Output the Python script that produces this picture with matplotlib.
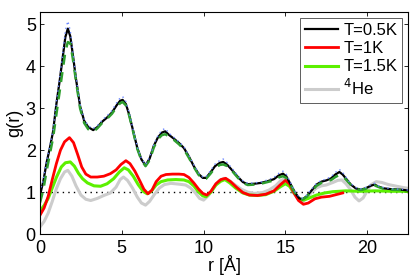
import numpy as np
import matplotlib
matplotlib.use("Agg")
import matplotlib.pyplot as plt

plt.rcParams['font.family'] = ['Liberation Sans', 'DejaVu Sans']

# T = 0.5K (black) plus the two overlaid curves sharing its r grid
r_black = [0.0, 0.2, 0.4, 0.6, 0.8, 1.0, 1.2, 1.4, 1.55, 1.7,
           1.85, 2.0, 2.2, 2.45, 2.7, 2.95, 3.25, 3.5, 3.8, 4.1,
           4.4, 4.7, 4.9, 5.05, 5.25, 5.45, 5.7, 5.95, 6.2, 6.45,
           6.7, 6.95, 7.2, 7.45, 7.65, 7.9, 8.2, 8.5, 8.8, 9.1,
           9.4, 9.7, 9.95, 10.15, 10.4, 10.7, 11.0, 11.2, 11.45, 11.75,
           12.1, 12.4, 12.7, 13.1, 13.5, 13.9, 14.3, 14.6, 14.85, 15.05,
           15.3, 15.6, 15.85, 16.05, 16.3, 16.6, 16.9, 17.2, 17.5, 17.8,
           18.05, 18.3, 18.5, 18.75, 19.0, 19.3, 19.6, 19.9, 20.2, 20.45,
           20.7, 21.0, 21.5, 22.0, 22.5]
g_black = [0.93, 1.25, 1.7, 2.05, 2.45, 3.1, 3.65, 4.25, 4.7, 4.9,
           4.72, 4.3, 3.7, 3.05, 2.7, 2.55, 2.48, 2.55, 2.68, 2.78,
           2.9, 3.08, 3.18, 3.2, 3.1, 2.85, 2.45, 2.05, 1.78, 1.64,
           1.8, 2.1, 2.3, 2.42, 2.45, 2.36, 2.27, 2.17, 2.05, 1.85,
           1.62, 1.43, 1.34, 1.34, 1.46, 1.62, 1.7, 1.72, 1.65, 1.52,
           1.36, 1.24, 1.19, 1.2, 1.22, 1.26, 1.31, 1.4, 1.44, 1.38,
           1.2, 0.98, 0.85, 0.83, 0.9, 1.04, 1.18, 1.25, 1.28, 1.33,
           1.42, 1.48, 1.42, 1.3, 1.18, 1.09, 1.06, 1.09, 1.15, 1.18,
           1.13, 1.09, 1.07, 1.06, 1.04]
g_blue = [1.0, 1.3, 1.75, 2.1, 2.5, 3.15, 3.72, 4.35, 4.85, 5.08,
          4.85, 4.38, 3.75, 3.1, 2.74, 2.58, 2.52, 2.58, 2.72, 2.82,
          2.95, 3.14, 3.25, 3.28, 3.16, 2.9, 2.48, 2.08, 1.8, 1.66,
          1.83, 2.13, 2.34, 2.48, 2.52, 2.4, 2.3, 2.2, 2.08, 1.88,
          1.65, 1.46, 1.36, 1.37, 1.5, 1.67, 1.76, 1.79, 1.7, 1.56,
          1.39, 1.27, 1.21, 1.22, 1.24, 1.29, 1.35, 1.45, 1.5, 1.43,
          1.24, 1.01, 0.88, 0.86, 0.93, 1.07, 1.21, 1.28, 1.31, 1.37,
          1.47, 1.54, 1.47, 1.33, 1.2, 1.11, 1.08, 1.11, 1.17, 1.21,
          1.15, 1.11, 1.08, 1.07, 1.05]
g_dgreen = [0.75, 1.05, 1.5, 1.9, 2.3, 2.85, 3.4, 3.95, 4.35, 4.58,
            4.55, 4.2, 3.65, 3.0, 2.65, 2.5, 2.44, 2.52, 2.65, 2.75,
            2.87, 3.04, 3.12, 3.15, 3.07, 2.83, 2.43, 2.03, 1.76, 1.62,
            1.76, 2.06, 2.26, 2.36, 2.38, 2.33, 2.24, 2.14, 2.02, 1.82,
            1.6, 1.41, 1.32, 1.32, 1.43, 1.58, 1.65, 1.66, 1.62, 1.5,
            1.34, 1.22, 1.17, 1.18, 1.2, 1.24, 1.28, 1.35, 1.38, 1.34,
            1.18, 0.97, 0.85, 0.83, 0.89, 1.02, 1.15, 1.22, 1.25, 1.29,
            1.36, 1.41, 1.38, 1.28, 1.17, 1.08, 1.05, 1.08, 1.13, 1.16,
            1.12, 1.08, 1.06, 1.05, 1.03]

# T = 1K (red)
r_red = [0.0, 0.25, 0.5, 0.75, 1.0, 1.25, 1.5, 1.8, 2.05, 2.3,
         2.55, 2.8, 3.1, 3.5, 3.9, 4.3, 4.65, 4.95, 5.25, 5.5,
         5.8, 6.1, 6.35, 6.6, 6.85, 7.1, 7.4, 7.7, 8.1, 8.5,
         8.8, 9.1, 9.4, 9.7, 9.95, 10.2, 10.45, 10.75, 11.05, 11.35,
         11.65, 12.0, 12.4, 12.8, 13.3, 13.8, 14.3, 14.7, 15.0, 15.25,
         15.5, 15.8, 16.1, 16.4, 16.8, 17.2, 17.7, 18.1, 18.5]
g_red = [0.45, 0.62, 0.9, 1.3, 1.68, 2.0, 2.2, 2.3, 2.18, 1.9,
         1.6, 1.43, 1.36, 1.36, 1.38, 1.44, 1.53, 1.66, 1.75, 1.68,
         1.5, 1.27, 1.07, 0.96, 1.05, 1.25, 1.38, 1.42, 1.43, 1.43,
         1.42, 1.35, 1.22, 1.07, 0.97, 0.93, 1.02, 1.2, 1.3, 1.33,
         1.25, 1.12, 0.99, 0.93, 0.92, 0.95, 1.03, 1.18, 1.28, 1.2,
         1.0, 0.8, 0.71, 0.74, 0.84, 0.88, 0.9, 0.94, 0.98]

# T = 1.5K (light green)
r_lgreen = [0.0, 0.25, 0.5, 0.75, 1.0, 1.3, 1.55, 1.85, 2.1, 2.35,
            2.6, 2.9, 3.3, 3.7, 4.1, 4.5, 4.85, 5.15, 5.4, 5.7,
            6.0, 6.3, 6.55, 6.8, 7.1, 7.4, 7.8, 8.3, 8.8, 9.1,
            9.4, 9.7, 9.95, 10.15, 10.45, 10.75, 11.05, 11.3, 11.6, 11.95,
            12.4, 12.8, 13.3, 13.8, 14.3, 14.7, 15.0, 15.25, 15.55, 15.85,
            16.1, 16.4, 16.9, 17.4, 17.9, 18.7, 19.5, 20.5, 21.5, 22.5]
g_lgreen = [0.55, 0.68, 0.85, 1.1, 1.35, 1.6, 1.7, 1.72, 1.62, 1.45,
            1.32, 1.22, 1.15, 1.14, 1.2, 1.32, 1.48, 1.58, 1.53, 1.38,
            1.18, 1.02, 0.96, 1.02, 1.17, 1.25, 1.29, 1.3, 1.29, 1.25,
            1.15, 1.0, 0.91, 0.89, 1.0, 1.17, 1.26, 1.3, 1.22, 1.1,
            0.98, 0.93, 0.92, 0.94, 1.02, 1.13, 1.2, 1.14, 0.97, 0.84,
            0.81, 0.85, 0.93, 0.98, 1.01, 1.03, 1.02, 1.03, 1.02, 1.02]

# 4He (grey)
r_he = [0.0, 0.25, 0.5, 0.75, 1.0, 1.25, 1.5, 1.7, 1.95, 2.2,
        2.5, 2.8, 3.1, 3.5, 3.9, 4.3, 4.65, 4.9, 5.1, 5.35,
        5.65, 5.95, 6.2, 6.45, 6.7, 7.0, 7.3, 7.6, 8.0, 8.5,
        8.9, 9.2, 9.5, 9.75, 10.0, 10.3, 10.6, 10.95, 11.25, 11.55,
        11.9, 12.3, 12.7, 13.1, 13.6, 14.0, 14.4, 14.7, 14.95, 15.2,
        15.5, 15.8, 16.05, 16.3, 16.6, 16.9, 17.2, 17.5, 17.9, 18.2,
        18.45, 18.7, 19.0, 19.25, 19.5, 19.75, 20.0, 20.25, 20.55, 20.9,
        21.3, 21.8, 22.2, 22.5]
g_he = [0.17, 0.3, 0.5, 0.78, 1.08, 1.32, 1.48, 1.52, 1.38, 1.15,
        0.93, 0.83, 0.8, 0.85, 0.92, 0.98, 1.12, 1.3, 1.36, 1.28,
        1.1, 0.88, 0.74, 0.69, 0.78, 0.95, 1.1, 1.18, 1.21, 1.19,
        1.17, 1.1, 0.98, 0.85, 0.81, 0.92, 1.1, 1.27, 1.33, 1.28,
        1.18, 1.07, 1.0, 0.97, 0.99, 1.05, 1.15, 1.27, 1.32, 1.2,
        0.98, 0.82, 0.77, 0.85, 1.0, 1.1, 1.15, 1.17, 1.23, 1.28,
        1.29, 1.2, 1.05, 0.88, 0.79, 0.86, 1.03, 1.18, 1.25, 1.23,
        1.18, 1.14, 1.11, 1.09]

fig = plt.figure(figsize=(4.15, 2.76), dpi=100)
ax = fig.add_axes([0.0964, 0.152, 0.887, 0.805])

ax.plot([0, 22.5], [1, 1], color='k', linestyle=(0, (1, 3)), linewidth=1.0)
l_he, = ax.plot(r_he, g_he, color='#cccccc', linewidth=2.2, label='$^4$He')
l_lg, = ax.plot(r_lgreen, g_lgreen, color='#5cf000', linewidth=2.2, label='T=1.5K')
l_red, = ax.plot(r_red, g_red, color='#ff0000', linewidth=2.0, label='T=1K')
l_blk, = ax.plot(r_black, g_black, color='k', linewidth=1.6, label='T=0.5K')
ax.plot(r_black, g_dgreen, color='#2e9e2e', linewidth=1.8, linestyle=(0, (4, 3)))
ax.plot(r_black, g_blue, color='#6a86ff', linewidth=1.0, linestyle=(0, (1, 2.5)))

ax.set_xlim(0, 22.5)
ax.set_ylim(0, 5.3)
ax.set_xticks([0, 5, 10, 15, 20])
ax.set_yticks([0, 1, 2, 3, 4, 5])
ax.tick_params(direction='in', top=True, right=True, labelsize=13, length=3,
               width=0.6)
ax.tick_params(axis='x', pad=4)
ax.tick_params(axis='y', pad=3)
for s in ax.spines.values():
    s.set_linewidth(0.8)
ax.set_xlabel('r [Å]', fontsize=13, labelpad=-1)
ax.set_ylabel('g(r)', fontsize=13, labelpad=2)

leg = ax.legend(handles=[l_blk, l_red, l_lg, l_he], loc='upper right',
                fontsize=12, frameon=True, fancybox=False, framealpha=1,
                edgecolor='#444444', borderpad=0.3, labelspacing=0.2,
                handlelength=2.0, handletextpad=0.3, borderaxespad=0.35)
leg.get_frame().set_linewidth(0.6)

fig.savefig('out.png', dpi=100)
